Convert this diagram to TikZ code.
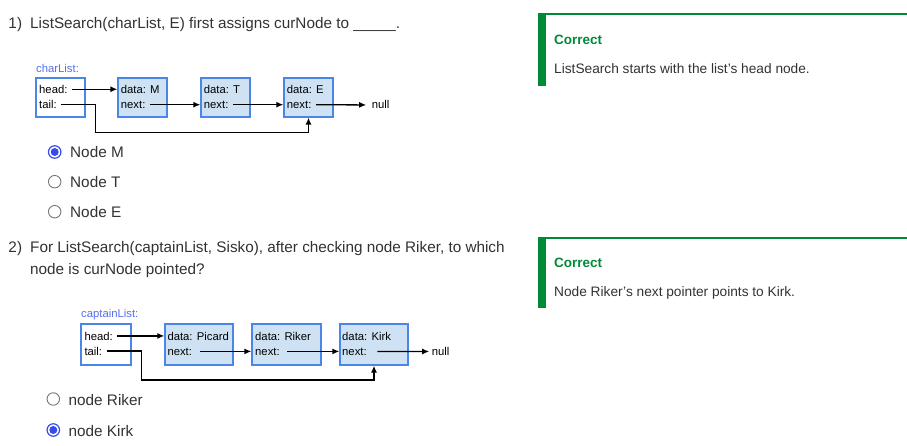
\documentclass[tikz,border=0pt]{standalone}
\usepackage{fontspec}
\setmainfont{Liberation Sans}
\usetikzlibrary{arrows.meta}

\definecolor{qtext}{RGB}{50,50,50}
\definecolor{boxblue}{RGB}{74,134,232}
\definecolor{boxfill}{RGB}{207,226,243}
\definecolor{labelblue}{RGB}{85,110,235}
\definecolor{radioblue}{RGB}{55,75,235}
\definecolor{radiogray}{RGB}{117,117,117}
\definecolor{okgreen}{RGB}{0,137,54}

\begin{document}
\begin{tikzpicture}[x=1pt, y=-1pt,
    txt/.style={anchor=base west, inner sep=1.5pt, font=\fontsize{11.3}{13}\selectfont},
    qtxt/.style={anchor=base west, inner sep=1.5pt, text=qtext, font=\fontsize{15.3}{19}\selectfont},
    fbtxt/.style={anchor=base west, inner sep=1.5pt, text=qtext, font=\fontsize{13.7}{16}\selectfont},
    fbtitle/.style={anchor=base west, inner sep=1.5pt, text=okgreen, font=\fontsize{13.5}{16}\selectfont\bfseries},
    listbox/.style={rectangle, draw=boxblue, line width=1.3pt, minimum width=49pt, minimum height=39pt, inner sep=0pt},
    databox/.style={listbox, fill=boxfill},
    arrow/.style={-{Latex[length=7pt, width=6pt]}, line width=1.3pt, shorten <=3pt},
    radio/.style={circle, draw=radiogray, line width=0.9pt, minimum size=12.5pt, inner sep=0pt},
    radioon/.style={radio, draw=radioblue, line width=1.2pt,
        path picture={\fill[radioblue] (path picture bounding box.center) circle (4pt);}}
]
    \useasboundingbox (0,0) rectangle (907,446);

    % question 1
    \node[qtxt] (q1num) at (6.8,29)  {1)};
    \node[qtxt] (q1)    at (28.5,29) {ListSearch(charList, E) first assigns curNode to \_\_\_\_\_.};

    \node[txt, text=labelblue] (cllabel) at (34.5,72.7) {charList:};
    \node[listbox]  (charlist) at (60.5,97.5)  {};
    \node[databox]  (nodeM)    at (142.5,97.5) {};
    \node[databox]  (nodeT)    at (225.5,97.5) {};
    \node[databox]  (nodeE)    at (308.5,97.5) {};

    \node[txt] (clhead) at (37.5,93.3)   {head:};
    \node[txt] (cltail) at (37.5,108.3)  {tail:};
    \node[txt] (mdata)  at (119.2,93.3)  {data: M};
    \node[txt] (mnext)  at (119.2,108.3) {next:};
    \node[txt] (tdata)  at (202.2,93.3)  {data: T};
    \node[txt] (tnext)  at (202.2,108.3) {next:};
    \node[txt] (edata)  at (285.2,93.3)  {data: E};
    \node[txt] (enext)  at (285.2,108.3) {next:};
    \node[txt] (null1)  at (370.2,109)   {null};

    \draw[arrow] (clhead.east) -- (nodeM.west |- clhead);
    \draw[arrow] (mnext.east)  -- (nodeT.west |- mnext);
    \draw[arrow] (tnext.east)  -- (nodeE.west |- tnext);
    \draw[arrow, shorten >=4pt] (enext.east) -- (null1.west);
    \draw[arrow] (cltail.east) -- ([xshift=10pt]charlist.east |- cltail)
        -- ++(0,28) -| (nodeE.south);

    \node[radioon] (rM) at (54.7,152)   {};
    \node[radio]   (rT) at (54.7,181.7) {};
    \node[radio]   (rE) at (54.7,211.7) {};
    \node[qtxt] (optM) at (68.5,157.7) {Node M};
    \node[qtxt] (optT) at (68.5,187.3) {Node T};
    \node[qtxt] (optE) at (68.5,217.7) {Node E};

    % question 2
    \node[qtxt] (q2num) at (6.8,252.7)  {2)};
    \node[qtxt] (q2)    at (28.5,252.7) {For ListSearch(captainList, Sisko), after checking node Riker, to which};
    \node[qtxt] (q2b)   at (28.5,275)   {node is curNode pointed?};

    \node[txt, text=labelblue] (cplabel) at (79.5,317.7) {captainList:};
    \node[listbox, minimum width=50pt, minimum height=41pt] (captlist) at (106,344.5) {};
    \node[databox, minimum width=68pt, minimum height=41pt] (nodeP) at (199,344.5)   {};
    \node[databox, minimum width=69pt, minimum height=41pt] (nodeR) at (286.5,344.5) {};
    \node[databox, minimum width=68pt, minimum height=41pt] (nodeK) at (374,344.5)   {};

    \node[txt] (cphead) at (82.8,340)  {head:};
    \node[txt] (cptail) at (82.8,355)  {tail:};
    \node[txt] (pdata)  at (165.8,340) {data: Picard};
    \node[txt] (pnext)  at (165.8,355) {next:};
    \node[txt] (rdata)  at (253.5,340) {data: Riker};
    \node[txt] (rnext)  at (253.5,355) {next:};
    \node[txt] (kdata)  at (340.5,340) {data: Kirk};
    \node[txt] (knext)  at (340.5,355) {next:};
    \node[txt] (null2)  at (430.2,355.5) {null};

    \draw[arrow] (cphead.east) -- (nodeP.west |- cphead);
    \draw[arrow, shorten <=6pt] (pnext.east) -- (nodeR.west |- pnext);
    \draw[arrow, shorten <=6pt] (rnext.east) -- (nodeK.west |- rnext);
    \draw[arrow, shorten <=9pt, shorten >=1pt] (knext.east) -- (null2.west);
    \draw[arrow] (cptail.east) -- ([xshift=10pt]captlist.east |- cptail)
        -- ++(0,29) -| (nodeK.south);

    \node[radio]   (rRiker) at (53.3,399) {};
    \node[radioon] (rKirk)  at (53.3,430) {};
    \node[qtxt] (optRiker) at (67,405.7) {node Riker};
    \node[qtxt] (optKirk)  at (67,436)   {node Kirk};

    % feedback panels
    \fill[okgreen] (538,13.3) rectangle (545.7,86);
    \fill[okgreen] (538,13.3) rectangle (907,15.3);
    \node[fbtitle] (fb1title) at (552.5,45)   {Correct};
    \node[fbtxt]   (fb1text)  at (552.5,73.3) {ListSearch starts with the list's head node.};

    \fill[okgreen] (538,237) rectangle (545.7,308);
    \fill[okgreen] (538,237) rectangle (907,239);
    \node[fbtitle] (fb2title) at (552.5,267.7) {Correct};
    \node[fbtxt]   (fb2text)  at (552.5,296.7) {Node Riker's next pointer points to Kirk.};
\end{tikzpicture}
\end{document}
